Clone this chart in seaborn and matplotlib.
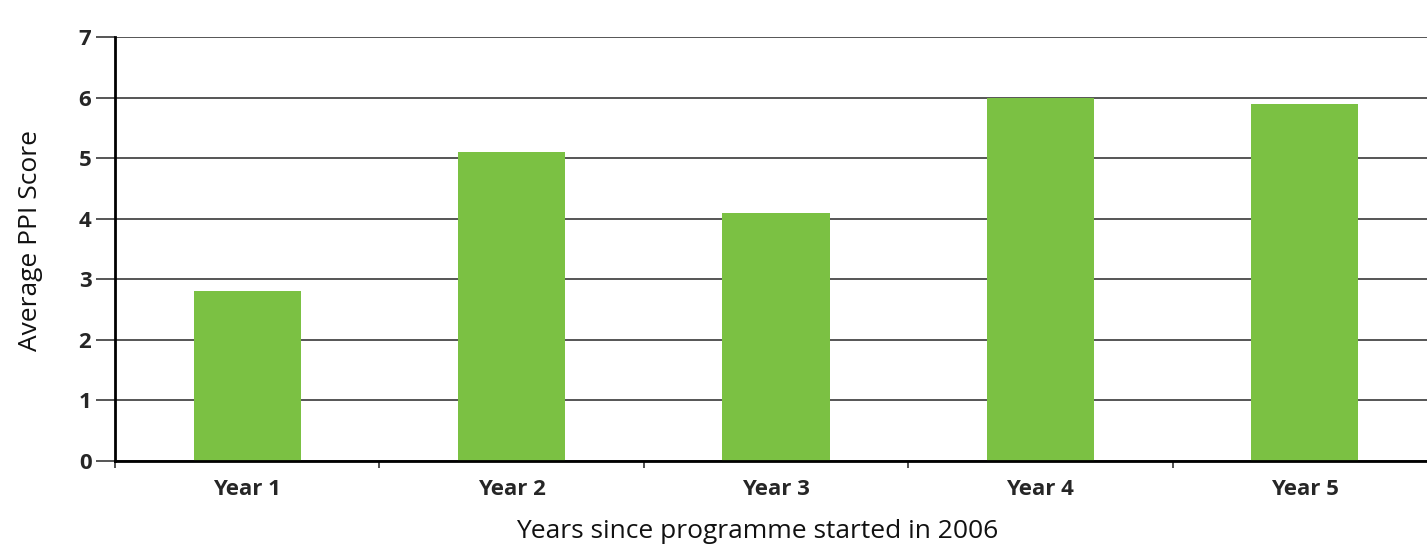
import matplotlib
matplotlib.use("Agg")
import matplotlib.pyplot as plt
import seaborn as sns
import pandas as pd

categories = ["Year 1", "Year 2", "Year 3", "Year 4", "Year 5"]
scores = [2.8, 5.1, 4.1, 6.0, 5.9]
y_ticks = [0, 1, 2, 3, 4, 5, 6, 7]

sns.set_theme(style="white")
plt.rcParams['font.family'] = ['Open Sans', 'DejaVu Sans']

df = pd.DataFrame({"Year": categories, "Score": scores})

fig = plt.figure(figsize=(14.27, 5.46), dpi=100)
ax = fig.add_axes([115/1427, (546-461)/546, (1437-115)/1427, (461-37)/546])

sns.barplot(data=df, x="Year", y="Score", color="#7BC143", width=0.405,
            saturation=1, ax=ax, zorder=3)
for p in ax.patches:
    p.set_edgecolor("none")

ax.set_xlim(-0.5, 4.5)
ax.set_ylim(0, 7)
ax.set_yticks(y_ticks)
ax.yaxis.grid(True, color="#555555", linewidth=1.4, zorder=0)
ax.set_axisbelow(True)

for s in ["top", "right"]:
    ax.spines[s].set_visible(False)
for s in ["left", "bottom"]:
    ax.spines[s].set_color("black")
    ax.spines[s].set_linewidth(2)
    ax.spines[s].set_zorder(5)

ax.tick_params(axis="y", which="major", length=14, width=1.4, color="#555555",
               direction="out", labelsize=16, pad=3, left=True)
for lbl in ax.get_yticklabels():
    lbl.set_fontweight("bold")

ax.set_xticks([i - 0.5 for i in range(len(categories) + 1)], minor=True)
ax.tick_params(axis="x", which="minor", length=5, width=1.2, color="#333333",
               direction="out", bottom=True)
ax.tick_params(axis="x", which="major", length=0, labelsize=16, pad=13)
for lbl in ax.get_xticklabels():
    lbl.set_fontweight("bold")

ax.set_xlabel("Years since programme started in 2006", fontsize=19, labelpad=14,
              color="#111111")
ax.set_ylabel("Average PPI Score", fontsize=19, labelpad=26, color="#111111")
ax.xaxis.label.set_x(0.4856)
ax.yaxis.label.set_y(0.521)

fig.savefig("out.png", dpi=100)
